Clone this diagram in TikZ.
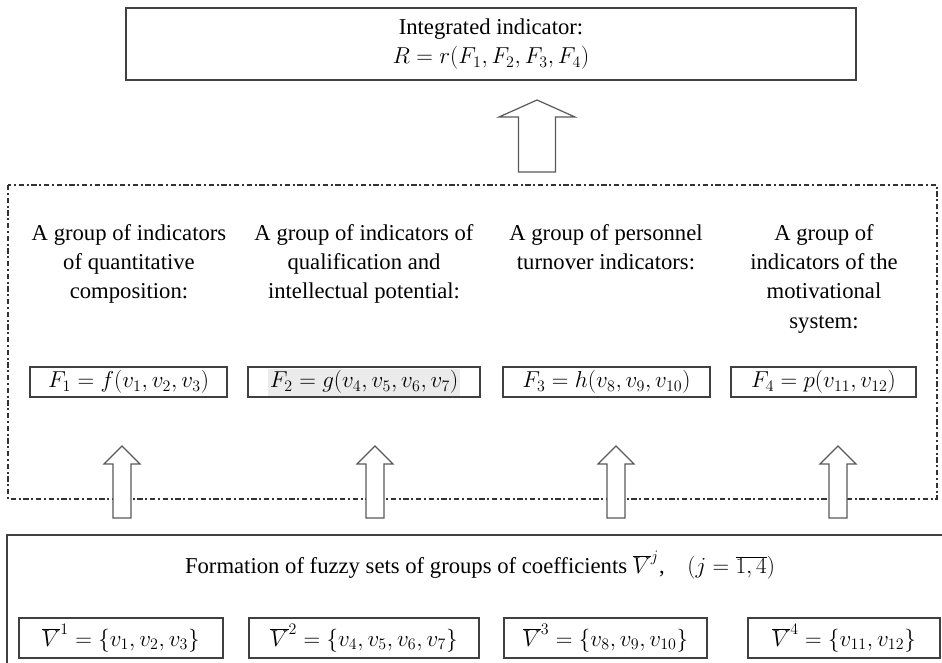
\documentclass[tikz,border=0pt]{standalone}
\usepackage{fontspec}
\setmainfont{Liberation Serif}
\begin{document}
\begin{tikzpicture}[x=0.75pt,y=-0.75pt]
    \tikzstyle{every node}=[font=\fontsize{17}{22}\selectfont];
    \tikzstyle{box}=[draw=black!75,line width=0.8pt,inner sep=0pt];
    \tikzstyle{fbox}=[box,minimum height=22.5pt];
    \tikzstyle{vbox}=[box,minimum height=30pt];
    \tikzstyle{grouptext}=[align=center,anchor=north,inner sep=0pt];
    \tikzstyle{arrowline}=[draw=black!65,line width=0.9pt,fill=white];
    \tikzset{pics/hollow/.style n args={3}{code={
        \draw[arrowline] (-#1,0) -- (-#1,-72+#3) -- (-#2,-72+#3) -- (0,-72)
            -- (#2,-72+#3) -- (#1,-72+#3) -- (#1,0) -- cycle;}}}
    \path[use as bounding box,clip] (0,0) rectangle (942,662);

    % integrated indicator
    \node[box,minimum width=547.5pt,minimum height=54pt,align=center] (top) at (491,44)
        {Integrated indicator:\\ $R=r(F_1,F_2,F_3,F_4)$};

    % groups of indicators
    \draw[draw=black!80,line width=0.8pt,dash pattern=on 4pt off 2pt on 1.5pt off 2pt]
        (8,185) rectangle (937,499);
    \node[grouptext] (g1) at (129,224) {A group of indicators\\ of quantitative\\ composition:};
    \node[grouptext] (g2) at (364,224) {A group of indicators of\\ qualification and\\ intellectual potential:};
    \node[grouptext] (g3) at (606,224) {A group of personnel\\ turnover indicators:};
    \node[grouptext] (g4) at (824,224) {A group of\\ indicators of the\\ motivational\\ system:};

    \node[fbox,minimum width=147.75pt] (F1) at (128.5,382) {$F_1=f(v_1,v_2,v_3)$};
    \node[fbox,minimum width=174pt] (F2) at (364,382)
        {\setlength{\fboxsep}{1.5pt}\colorbox{black!8}{$F_2=g(v_4,v_5,v_6,v_7)$}};
    \node[fbox,minimum width=155.25pt] (F3) at (606.5,382) {$F_3=h(v_8,v_9,v_{10})$};
    \node[fbox,minimum width=138.75pt] (F4) at (823.5,382) {$F_4=p(v_{11},v_{12})$};

    % fuzzy sets
    \draw[draw=black!75,line width=0.9pt] (7,535) rectangle (960,690);
    \node (form) at (480,565)
        {Formation of fuzzy sets of groups of coefficients $\overline{V}^{j}$,\quad $(j=\overline{1,4})$};
    \node[vbox,minimum width=153pt] (V1) at (121,638) {$\overline{V}^{1}=\{v_1,v_2,v_3\}$};
    \node[vbox,minimum width=172.5pt] (V2) at (364,638) {$\overline{V}^{2}=\{v_4,v_5,v_6,v_7\}$};
    \node[vbox,minimum width=152.25pt] (V3) at (605.5,638) {$\overline{V}^{3}=\{v_8,v_9,v_{10}\}$};
    \node[vbox,minimum width=144pt] (V4) at (844,638) {$\overline{V}^{4}=\{v_{11},v_{12}\}$};

    % arrows
    \pic at (537,172) {hollow={18.5}{38}{17}};
    \foreach \x in {122,375,616,838}
        \pic at (\x,518) {hollow={9}{18}{18}};
\end{tikzpicture}
\end{document}
